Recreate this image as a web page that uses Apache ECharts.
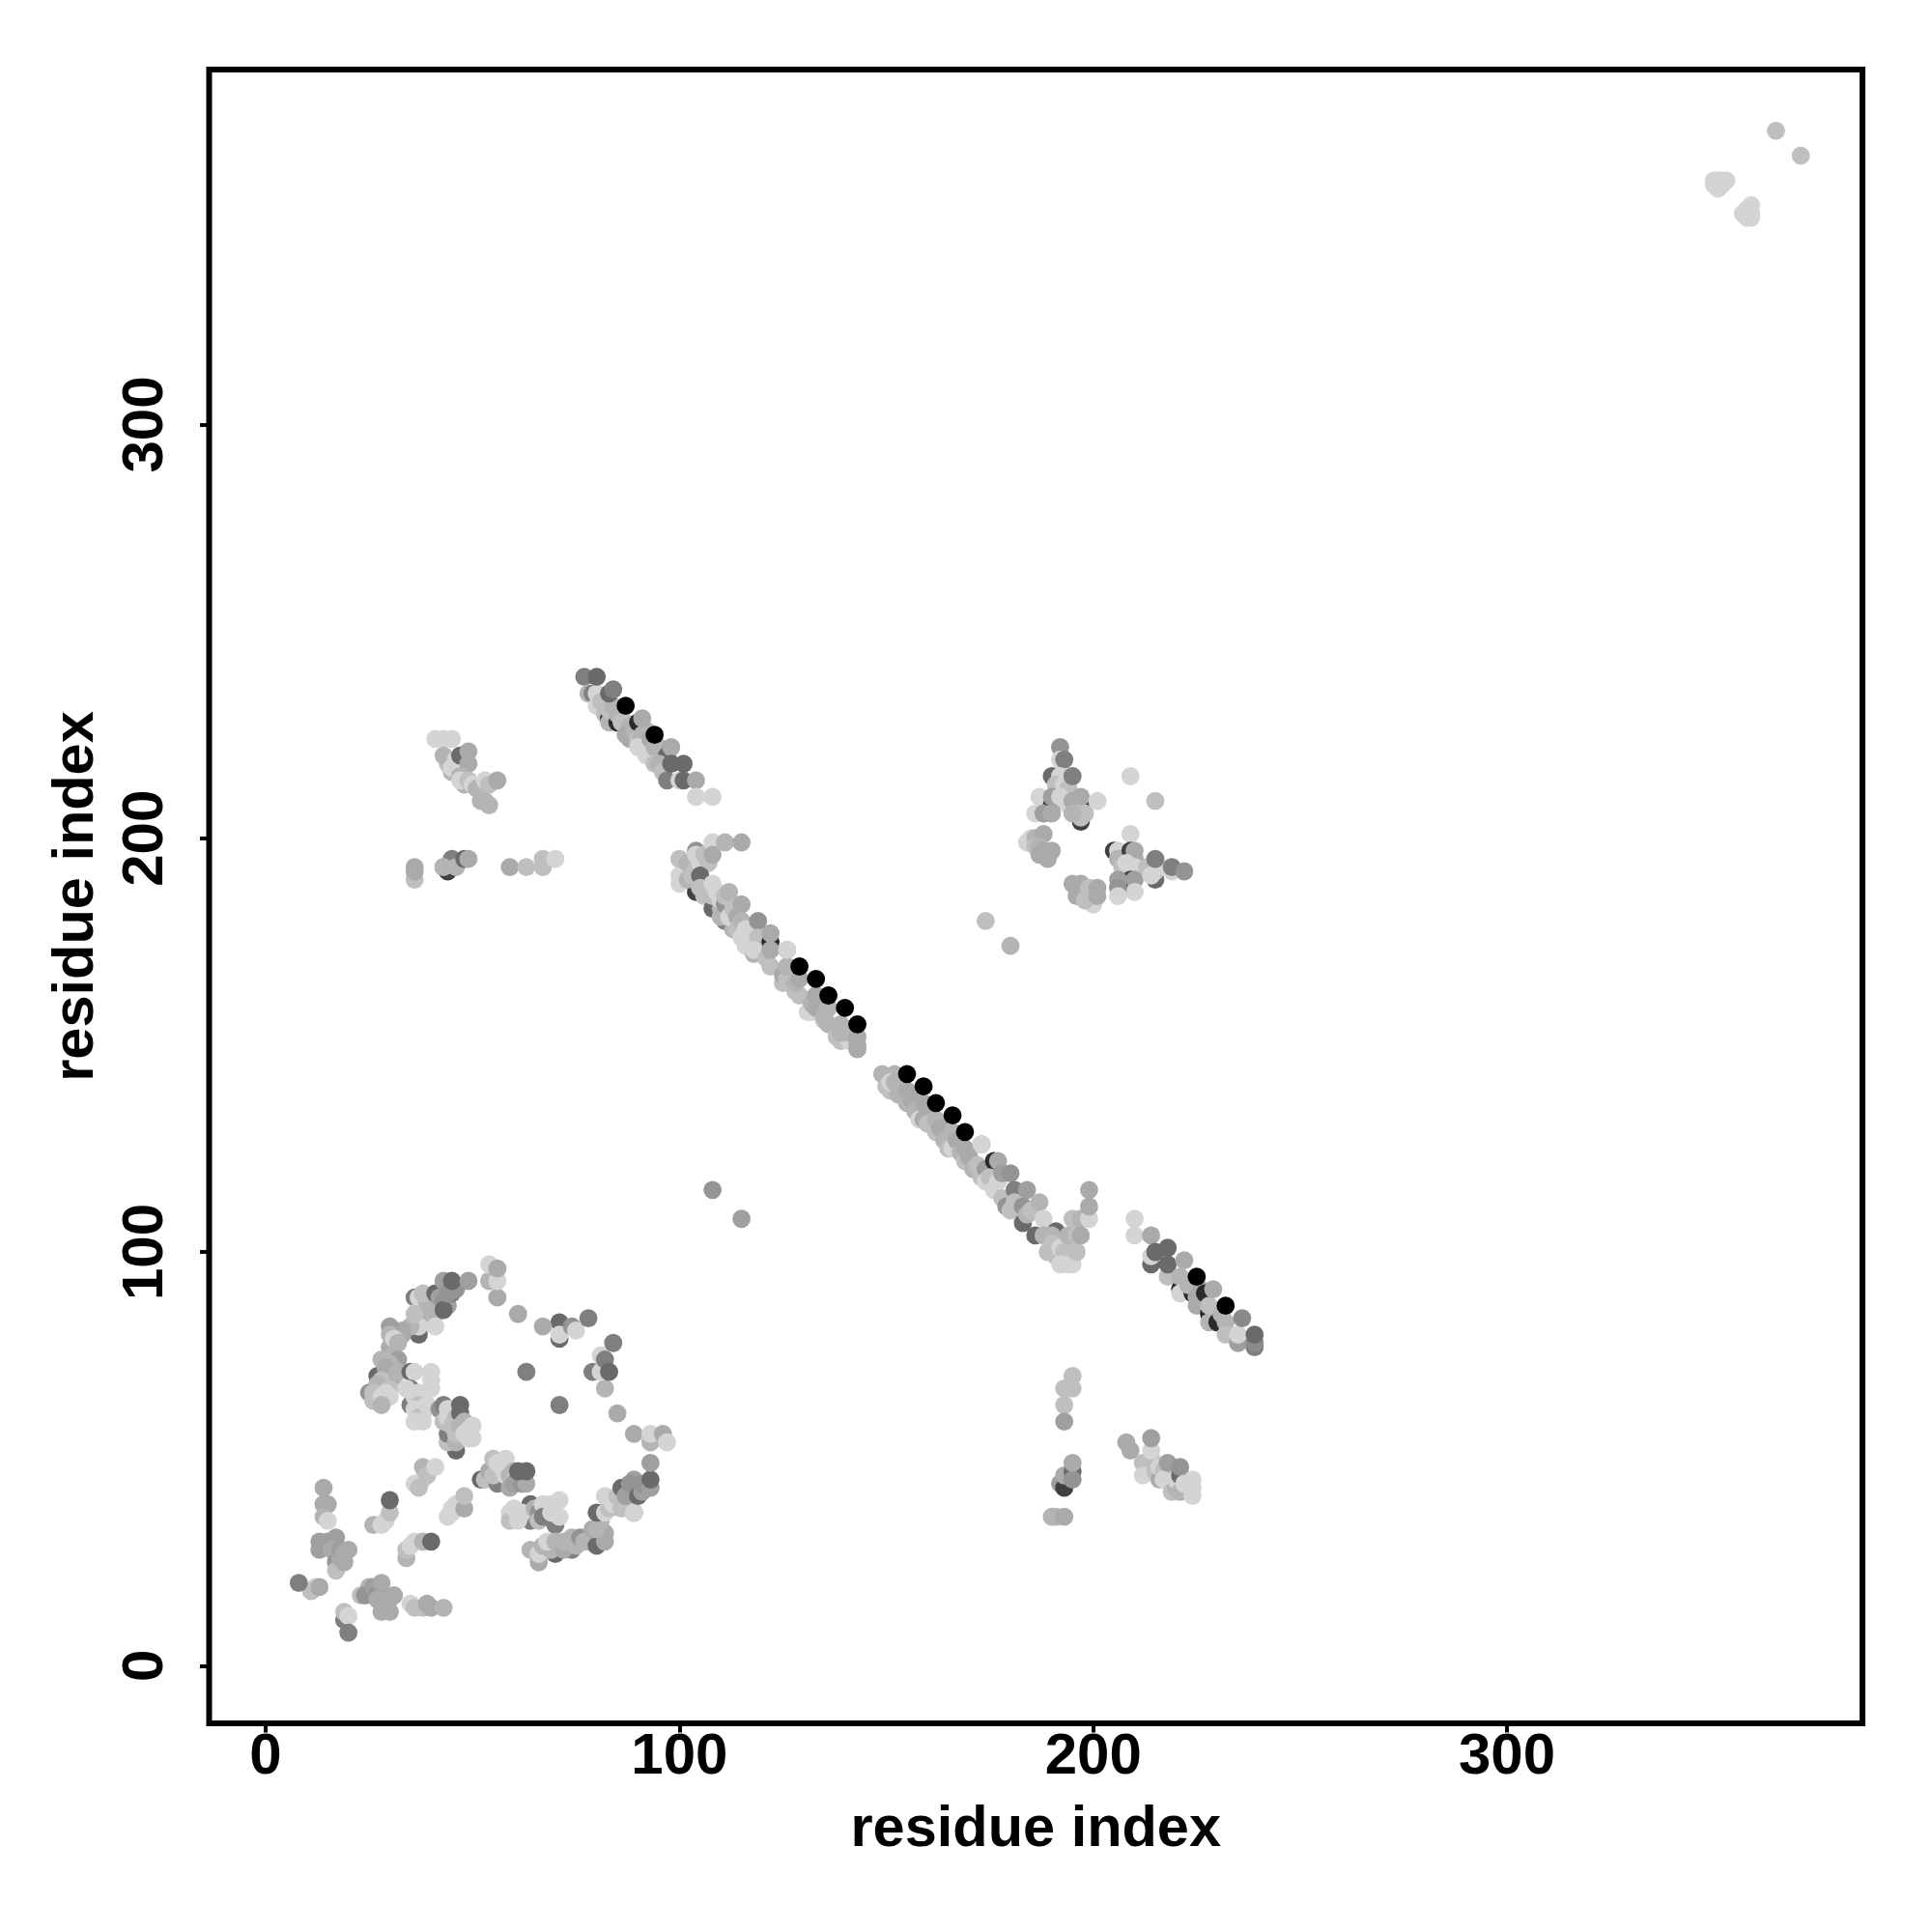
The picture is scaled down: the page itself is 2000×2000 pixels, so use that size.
<!DOCTYPE html>
<html><head><meta charset="utf-8">
<style>html,body{margin:0;padding:0;background:#fff}#c{width:2000px;height:2000px}</style>
<script src="https://cdn.jsdelivr.net/npm/echarts@6/dist/echarts.min.js"></script>
</head><body><div id="c"></div>
<script>
// Each contact: [residue x, residue y, score 0..10]; drawn in list order.
const tickValues = [0, 100, 200, 300];
const axisName = "residue index";

const cornerContacts = [
[12,19,0],[11,18,1],[8,20,4],[13,19,2],
[19,11,4],[19,13,1],[20,12,0],[20,8,4],
[26,18,4],[23,17,1],[25,19,1.5],[24,17,3],[26,19,2.5],[27,17,3],[28,20,2],[29,16,2.5],[27,16,2],[29,15,2],[30,16,2],[31,17,2],[28,13,2],[30,13,2],
[35,15,0],[36,14,1],[38,14,1],[39,15,2],[40,14,2],[43,14,1.5],
[14,43,2],[15,39,2],[14,39,2],[14,36,1.5],[15,35,0],
[13,30,2.5],[13,28,2.5],[14,29,2.5],[15,30,2.5],[17,31,2.5],[16,28,2],[17,25,3],[17,23,1],[18,26,2],[18,28,2.5],[19,25,2],[19,27,2],[20,28,2],
[26,34,1.5],[28,34,0],[29,35,0],[30,37,1],[30,40,5],
[34,26,1.5],[34,28,1],[35,29,0],[36,30,0],[38,30,1.5],[40,30,5],
[36,44,0],[38,45,0],[37,43,1],[38,48,1.5],[39,46,1],[41,48,0],
[45,37,0],[45,38,0],[44,36,0],[46,39,0],[48,38,2],[48,41,1]
];
const lowerArcContacts = [
[52,45,5],[53,45,1],[56,44,4],[54,47,2],[55,46,1],[55,50,1],[57,47,1],[56,48,1],[58,46,0],[56,49,0],[58,50,0],[57,48,0],[59,46,1.5],[60,47,1.5],[60,45,1],[59,43,2],[60,44,2.5],[62,45,2],[62,44,3],[63,44,2],[61,47,5],[63,47,5],
[64,39,5],[64,35,4],[64,37,3],[59,37,0],[59,35,1],[60,38,0],[61,35,0],[62,37,0],[65,38,1.5],[66,37,3],[66,35,1],[67,39,0],[69,39,0],[67,36,4],[68,36,4],[70,34,4],[69,37,0],[71,40,0],[71,36,0],
[64,28,1.5],[66,25,2],[66,27,0],[67,29,1.5],[70,27,5],[69,28,1.5],[68,30,0],[70,30,1.5],[74,28,4],[72,28,2],[72,30,1.5],[75,29,1.5],[74,31,1.5],[76,31,3],[77,30,1.5],[78,30,1.5],[80,29,5],[82,30,2],[79,33,2],[82,32,2],[80,33,1.5],[81,35,1.5],
[80,37,5],[82,37,0],[83,38,1],[84,39,0],[82,41,0],[85,41,1],[86,43,5],[89,37,5],[86,38,1],[87,39,1],[88,40,1],[89,37,0],[87,41,2.5],[89,45,2.5],[88,44,3],[90,41,5],[91,42,2.5],[91,44,3],[93,43,2.5],[93,45,5],[93,49,2.5],
[89,56,2],[93,54,1.5],[93,56,0],[96,56,2],[97,54,0],[85,61,2],[82,67,1.5],
[79,71,4],[81,71,0],[81,75,0],[82,74,4],[83,71,5],[84,78,4],
[71,79,5],[71,83,5],[67,82,2],[71,80,0],[74,82,3],[75,81,0],[78,84,4],
[61,85,2],[56,89,2],[54,93,1.5],[56,93,0],[54,97,0],[56,96,2],
[63,71,4],[71,63,4]
];
const upperArcContacts = [
[37,80,5],[36,89,4],[37,86,1],[37,89,0],[38,84,1.5],[37,82,0],[39,88,1.5],[38,90,1],[41,85,1.5],[41,82,0],
[41,90,5],[42,89,2.5],[43,88,3],[44,87,2.5],[43,93,2.5],[43,86,5],[45,90,4],[44,90,3],[46,91,3],[45,93,5],[49,93,2.5],
[35,82,1.5],[36,85,1],[33,81,2],[33,80,2],[30,82,2.5],[30,77,2],[30,80,1.5],[31,79,0],[32,78,1.5],[31,75,1.5],[32,74,2.5],[28,74,1.5],[30,73,1.5],
[27,70,5],[29,72,2],[31,70,2],[32,71,1.5],[28,69,1],[25,66,3],[27,68,1.5],[26,66,1],[26,64,1],[30,67,1],[29,66,0],[28,65,0],[30,65,0],[28,63,1.5],
[35,71,5],[36,71,0],[40,71,0],[40,69,0],[35,67,4],[34,67,0],[40,67,0],[35,63,4],[36,65,0],[37,66,0],[37,63,1],[36,62,0],[38,61,0],[37,60,1],[36,59,0],[38,59,0],[39,63,0],
[42,62,3],[43,63,4],[46,52,5],[44,54,1],[44,56,4],[43,59,1],[44,60,0],[45,62,1],[44,62,0],[45,58,1],[46,54,1.5],[46,56,1],[46,60,1],[47,63,5],[47,61,5],[47,58,1.5],[48,59,1.5],[48,56,0],[49,57,0],[49,55,0],[50,58,0],[50,55,0]
];
const diagonalTop = [
[77,239,4],[78,235,1.5],[79,235,4],[80,235,0],[80,232,0],[81,233,1],[80,239,5],
[82,230,1],[83,229,8],[83,228,1.5],[83,231,1],[84,232,1.5],[83,235,5],[84,236,4],
[85,228,8],[85,230,1.5],[86,228,1],[87,228,1],[88,227,1.5],[87,225,2],[88,224,2],[89,226,1.5],[90,228,8],[92,222,8],[90,224,1],[91,225,1.5],[92,226,1.5],[90,222,0],[92,220,0],[91,229,2],[93,224,2],
[94,222,1.5],[95,222,1.5],[96,220,1.5],[97,220,5],[94,218,1],[95,218,1.5],[96,216,1],[98,222,2],[97,214,4],[100,214,0],[98,218,5],[101,218,5],[101,214,5],[104,214,2],
[104,210,0],[108,210,0],[87,232,10],[94,225,10]
];
const topLeftContacts = [
[41,224,0],[43,224,0],[45,224,0],[44,218,1],[43,220,1.5],[45,216,1.5],[45,217,0],[46,219,0],[47,220,5],[49,221,2],[49,218,2],
[47,215,1.5],[48,213,1.5],[47,214,0],[49,214,1],[50,213,0],[51,212,1.5],[53,214,0],[54,213,1],[56,214,2],[52,209,1.5],[53,209,1.5],[54,208,1.5],
[36,190,1],[36,193,2],[36,192,2],[44,192,7],[43,193,5],[45,195,4],[43,193,1.5],[46,193,1.5],[48,195,5],[49,195,2],
[59,193,2],[63,193,1],[67,193,1],[67,195,1],[70,195,0]
];
const diagonalMiddle = [
[104,187,7],[100,189,0],[100,191,0],[101,192,0],[101,193,0],[100,195,1],[103,194,1],[102,190,1.5],[102,194,1.5],[103,191,1],[104,193,1],[104,197,3],[104,196,0],[105,194,0],[106,196,1],[107,194,1],[105,191,5],
[108,199,0],[108,196,2],[111,199,1.5],[115,199,2],
[105,188,1],[106,186,1],[108,183,5],[108,186,1],[108,189,0],[109,187,0],[110,183,1.5],[110,185,0],[111,180,4],[110,181,1.5],[111,184,3],[111,186,1],[113,178,1.5],[112,181,0],[113,183,1],[112,187,1.5],[114,181,2],[114,178,1],[115,184,2],
[115,180,1.5],[116,178,0],[117,176,0],[116,174,0],[115,176,0],[119,180,3],[119,176,1],[118,172,1.5],[119,173,1.5],[118,173,0],
[122,175,8],[121,171,1],[122,169,1],[122,173,2],[122,177,2],[125,165,1],[125,167,2],[126,166,1],[126,169,1.5],[126,173,2.5],[126,173,0],
[129,162,1],[128,163,1],[128,165,1.5],[129,166,2],[131,158,0],[132,158,0],[132,160,1.5],[133,159,2],[133,162,2],[135,156,1],[135,157,1.5],[136,155,1.5],[136,159,1.5],[138,152,1],[139,151,1],[141,151,0],[139,153,1.5],[139,155,1.5],[141,153,1.5],
[143,149,2],[143,150,2],[143,152,2],
[129,169,10],[133,166,10],[136,162,10],[140,159,10],[143,155,10]
];
const diagonalLower = [
[149,143,1.5],[152,143,1.5],[150,140,1],[151,139,1],[151,141,0],[152,141,1.5],[153,138,1.5],
[155,136,1.5],[155,139,2],[156,137,2],[157,134,1.5],[158,132,0],[159,132,2],[159,136,2],[160,134,2],[160,131,1],[162,129,1],[162,132,1.5],[163,130,2],[164,127,1.5],[165,125,1],[166,125,0],[166,129,1.5],[167,127,2],[168,124,1.5],[169,122,1],[169,125,2],[170,123,2],
[155,143,10],[159,140,10],[162,136,10],[166,133,10],[169,129,10],
[171,120,1.5],[173,118,1],[172,121,1],[174,120,2.5],[174,117,0],[173,126,2.5],[173,126,0],[176,122,8],[175,118,1],[176,115,0],[177,117,0],[177,122,2],[178,119,2.5],
[180,119,3],[178,113,1],[179,111,3],[180,110,1],[181,115,4],[181,112,1],[183,111,3],[183,107,5],[184,109,1.5],[185,110,1],[184,115,2.5],
[186,104,5],[187,112,1.5],[188,108,0],[188,104,1.5],[191,105,5],[190,104,1.5],[189,100,1],[190,102,1],[191,99,1],[192,101,0],[193,99,0],[193,101,0],[193,100,1],[192,97,0],[194,97,0],[195,97,0],[195,102,1],[194,104,1.5],[196,100,1],[196,104,1],
[195,108,1],[197,108,1.5],[199,108,0],[199,111,2],[199,115,2],[197,104,2]
];
const diagonalEnd = [
[210,108,0],[210,104,0],[214,97,5],[214,99,0],[214,104,2],[215,100,5],[218,94,1],[218,97,5],[218,101,5],[222,98,2],
[221,91,8],[221,94,1.5],[221,90,0],[224,90,8],[223,92,1.5],[225,87,2],[225,89,2],[226,91,2],[228,85,8],[227,90,8],[228,83,1.5],[228,87,1],[229,91,2],
[230,83,8],[231,85,1.5],[232,83,1.5],[232,80,1],[235,78,2.5],[235,80,0],[236,84,3.5],[239,77,4],[239,78,3.5],[239,80,5],
[225,94,10],[232,87,10]
];
const upperRightContacts = [
[192,222,3],[192,219,0],[193,219,4],[190,215,5],[192,215,0],[191,213,1],[193,213,0],[194,212,1],[195,215,4],
[187,210,0],[190,208,7],[190,210,2.5],[193,209,1],[192,210,0],[194,208,0],[197,208,7],[195,209,2],[197,210,2],[197,204,7],[197,205,1],[196,206,1],[198,206,1],[201,209,0],[195,206,1.5],
[186,206,0],[188,206,2.5],[190,206,2],[184,199,0],[185,200,0],[186,200,1.5],[188,201,2],[186,198,1],[187,198,1.5],[188,197,2],[187,196,2],[189,195,2],[190,197,2],
[196,188,2],[196,186,2],[195,189,2],[197,189,2],[200,184,0],[198,185,1],[199,186,1],[199,188,1],[201,188,2],[201,186,2],
[209,215,0],[215,209,1],[209,201,0],[174,180,1],[180,174,1.5],
[205,197,7],[206,197,0],[206,195,1.5],[209,197,7],[210,197,2],[210,195,2],[207,193,1],[208,194,0],[210,193,0],[211,192,0],[209,190,7],[210,190,2.5],[210,187,0],
[206,190,2.5],[206,188,3],[206,186,0],[215,190,5],[215,192,1],[213,193,1],[214,191,0],[216,193,0],[215,195,4],[219,192,0],[219,193,4],[222,192,3]
];
const lowerRightContacts = [
[108,115,3],[115,108,2.5],
[193,67,1],[195,67,1],[195,70,1],[193,63,1],[193,59,2.5],
[192,44,2.5],[193,43,7],[193,46,2],[195,47,5],[195,45,3],[195,49,2],
[190,36,1.5],[191,36,1.5],[193,36,2],
[208,54,2],[209,52,2],[213,48,1],[212,49,1],[212,46,0],[214,50,1],[214,52,0],[214,55,2.5],
[215,47,1],[216,45,2],[216,48,0],[217,47,1],[217,45,0],[218,49,2.5],[219,42,1],[220,43,1.5],[220,45,0],[221,42,1.5],[221,46,5],[221,48,3],[222,44,0],[224,45,0],[224,43,0],[224,41,0]
];
const farCornerContacts = [
[365,371,1],[371,365,1],[350,359,0],[350,358,0],[351,357,0],[351,359,0],[352,358,0],[352,359,0],[353,359,0],[357,351,0],[358,352,0],[359,353,0],[358,350,0],[359,351,0],[359,350,0]
];

const contactGroups = [cornerContacts, lowerArcContacts, upperArcContacts, diagonalTop, topLeftContacts,
  diagonalMiddle, diagonalLower, diagonalEnd, upperRightContacts, lowerRightContacts, farCornerContacts];

function shade(score){ const g = Math.round(212 - 21.2*score); return `rgb(${g},${g},${g})`; }
const font = '"Liberation Sans", Arial, sans-serif';
const chart = echarts.init(document.getElementById('c'), null, {renderer:'canvas'});
function axis(extra){
  return Object.assign({
    type:'value', scale:true, name:axisName, nameLocation:'middle',
    nameTextStyle:{fontFamily:font,fontWeight:'bold',fontSize:59.5,color:'#000'},
    splitLine:{show:false}, axisLine:{show:false,onZero:false},
    axisTick:{show:true,length:9.5,customValues:tickValues,lineStyle:{color:'#000',width:4}}
  }, extra);
}
chart.setOption({
  animation:false, backgroundColor:'#fff',
  grid:{left:216.5,top:72,width:1711.5,height:1712,show:true,borderColor:'#000',borderWidth:6,backgroundColor:'transparent',containLabel:false},
  xAxis:axis({min:-13.66,max:385.9,nameGap:81,
    axisLabel:{customValues:tickValues,margin:5,fontFamily:font,fontWeight:'bold',fontSize:60,color:'#000',hideOverlap:false}}),
  yAxis:axis({min:-13.94,max:385.8,nameGap:107,
    axisLabel:{customValues:tickValues,rotate:90,margin:35,fontFamily:font,fontWeight:'bold',fontSize:60,color:'#000',hideOverlap:false}}),
  series:contactGroups.map(g=>({
    type:'scatter', symbol:'circle', symbolSize:18.8, silent:true, clip:false, large:false,
    data:g, itemStyle:{opacity:1,color:p=>shade(p.value[2])}
  }))
});
</script></body></html>
